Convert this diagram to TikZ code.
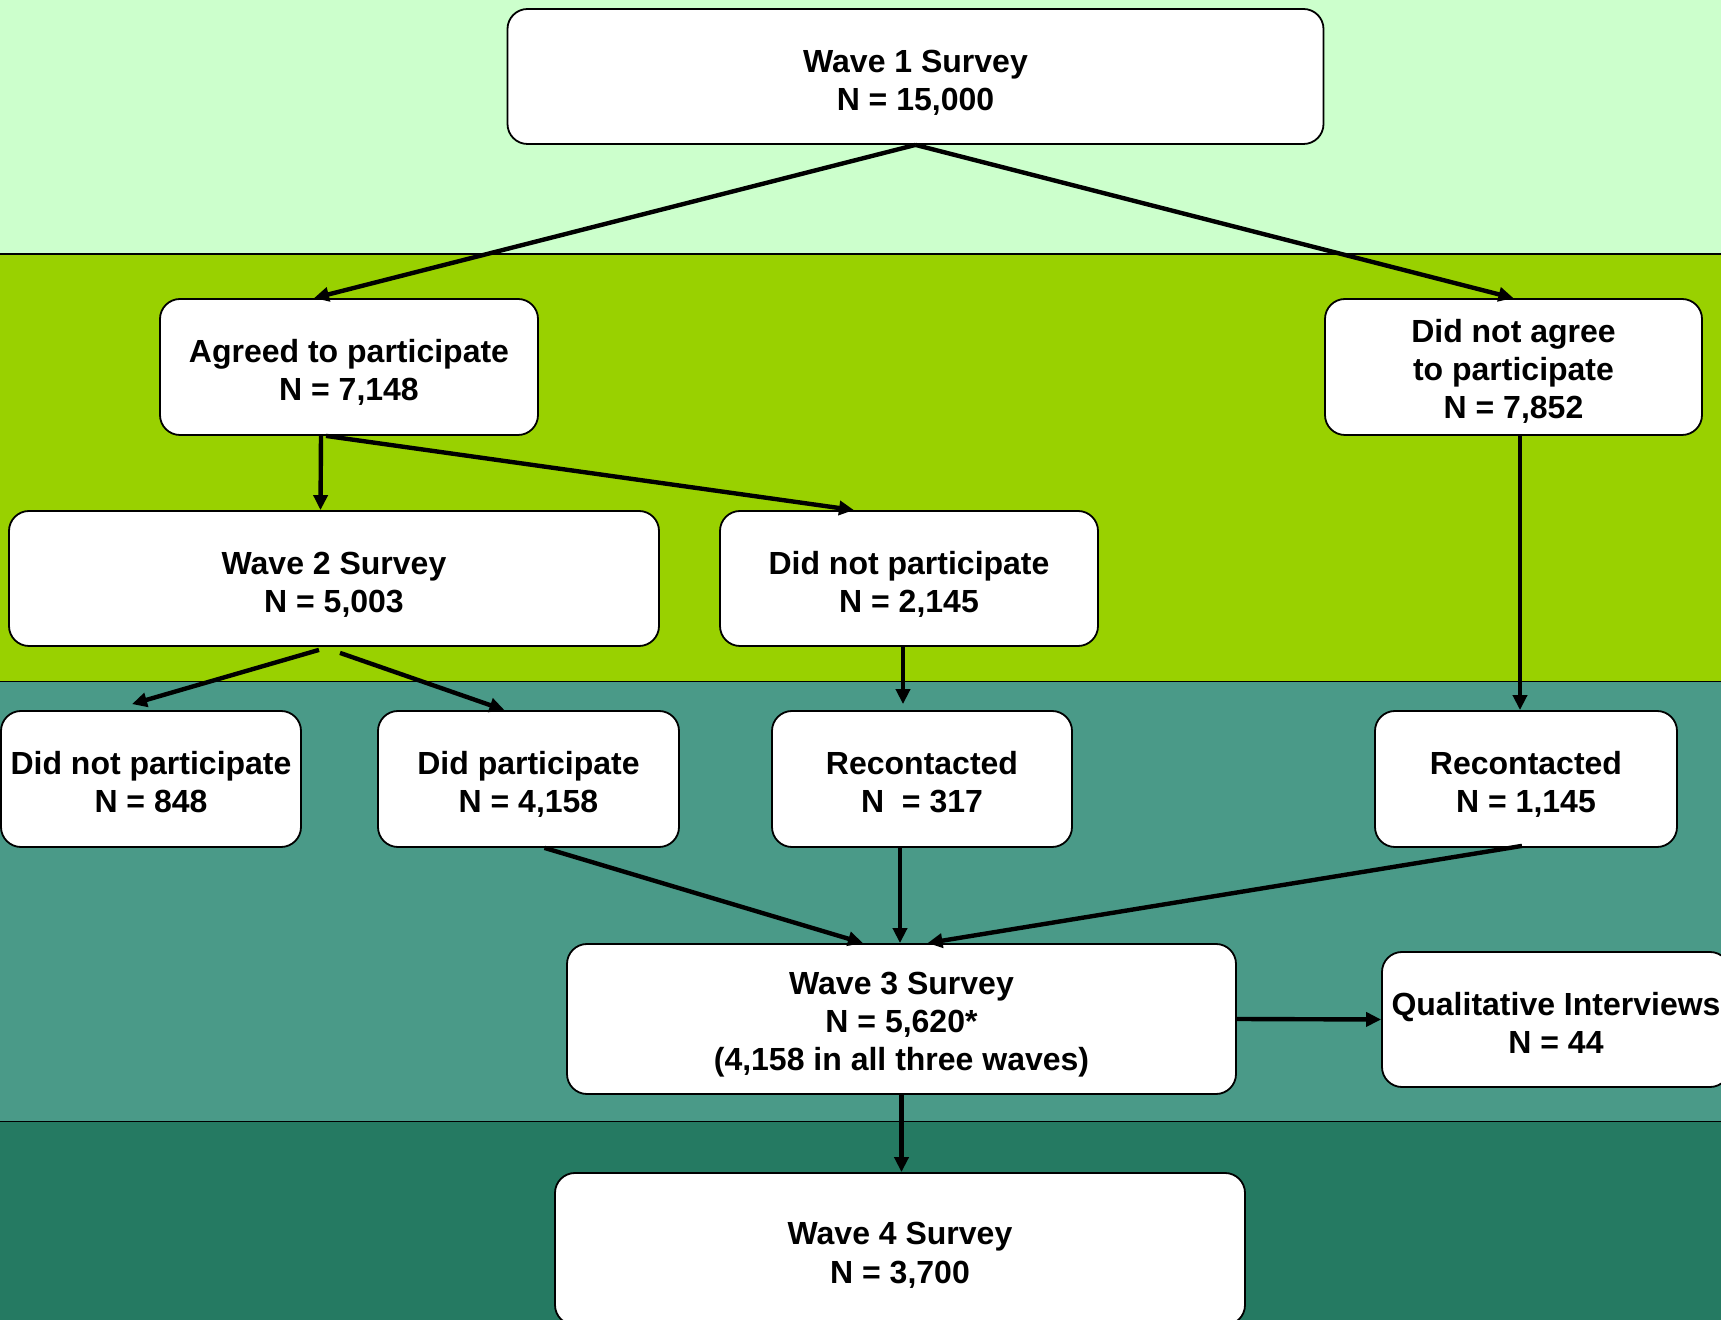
\documentclass[tikz,border=0pt]{standalone}
\usepackage{fontspec}
\setmainfont{Liberation Sans}
\usetikzlibrary{calc, arrows.meta, positioning}

\definecolor{bandA}{HTML}{CCFFCC}
\definecolor{bandB}{HTML}{99D100}
\definecolor{bandC}{HTML}{4A9A88}
\definecolor{bandD}{HTML}{257A62}

\begin{document}
\begin{tikzpicture}[x=0.5pt, y=-0.5pt,
   box/.style = {draw, fill=white, rounded corners=10pt, line width=0.9pt,
      align=center, inner sep=0pt, font=\fontsize{16}{19.2}\selectfont\bfseries,
      execute at end node={\rule[-6pt]{0pt}{46pt}}},
   box3/.style = {box, execute at end node={\rule[-5.4pt]{0pt}{63.4pt}}},
   flow/.style = {line width=2.2pt, -{Triangle[length=7.5pt, width=7pt]}}]
   \clip (0,0) rectangle (1721,1320);
   % background bands
   \fill[bandA] (0,0)      rectangle (1721,254);
   \fill[bandB] (0,254)    rectangle (1721,681.5);
   \fill[bandC] (0,681.5)  rectangle (1721,1121.5);
   \fill[bandD] (0,1121.5) rectangle (1721,1320);
   \draw[line width=0.8pt] (0,254) -- (1721,254)
      (0,681.5) -- (1721,681.5) (0,1121.5) -- (1721,1121.5);

   \node[box, minimum width=408pt, minimum height=67.5pt]  (w1)   at (915.5,76.5) {Wave 1 Survey\\N = 15,000};
   \node[box, minimum width=189pt, minimum height=68pt]    (agr)  at (349,367)    {Agreed to participate\\N = 7,148};
   \node[box3, minimum width=188.5pt, minimum height=68pt] (dna)  at (1513.5,367) {Did not agree\\to participate\\N = 7,852};
   \node[box, minimum width=325pt, minimum height=67.5pt]  (w2)   at (334,578.5)  {Wave 2 Survey\\N = 5,003};
   \node[box, minimum width=189pt, minimum height=67.5pt]  (dnp)  at (909,578.5)  {Did not participate\\N = 2,145};
   \node[box, minimum width=150pt, minimum height=68pt]    (dnp2) at (151,779)    {Did not participate\\N = 848};
   \node[box, minimum width=150.5pt, minimum height=68pt]  (dp)   at (528.5,779)  {Did participate\\N = 4,158};
   \node[box, minimum width=150pt, minimum height=68pt]    (rec1) at (922,779)    {Recontacted\\N\ \ = 317};
   \node[box, minimum width=151pt, minimum height=68pt]    (rec2) at (1526,779)   {Recontacted\\N = 1,145};
   \node[box3, minimum width=334.5pt, minimum height=75pt] (w3)   at (901.5,1019) {Wave 3 Survey\\N = 5,620*\\(4,158 in all three waves)};
   \node[box, minimum width=174pt, minimum height=67.5pt]  (qual) at (1556,1019.5) {Qualitative Interviews\\N = 44};
   \node[box, minimum width=345pt, minimum height=76pt]    (w4)   at (900,1249)   {Wave 4 Survey\\N = 3,700};

   \draw[flow] (w1.south) -- ($(agr.north)+(-35,0)$);
   \draw[flow] (w1.south) -- (dna.north);
   %
   \draw[flow] ($(agr.south)+(-28,0)$) -- ($(w2.north)+(-13.5,0)$);
   \draw[flow] ($(agr.south)+(-23,0)$) -- ($(dnp.north)+(-55,0)$);
   %
   \draw[flow] ($(w2.south)+(-15,3)$) -- ($(dnp2.north)+(-19,-6)$);
   \draw[flow] ($(w2.south)+(6,6)$) -- ($(dp.north)+(-24,0)$);
   \draw[flow] ($(dnp.south)+(-6,0)$) -- ($(rec1.north)+(-19,-6)$);
   \draw[flow] ($(dna.south)+(6.5,0)$) -- ($(rec2.north)+(-6,0)$);
   %
   \draw[flow] ($(dp.south)+(16,0)$) -- ($(w3.north)+(-38.5,0)$);
   \draw[flow] ($(rec1.south)+(-22,0)$) -- ($(w3.north)+(-1.5,0)$);
   \draw[flow] ($(rec2.south)+(-4,-2)$) -- ($(w3.north)+(26,0)$);
   \draw[flow] (w3.east) -- (qual.west);
   \draw[flow] (w3.south) -- (w3.south |- w4.north);
\end{tikzpicture}
\end{document}
